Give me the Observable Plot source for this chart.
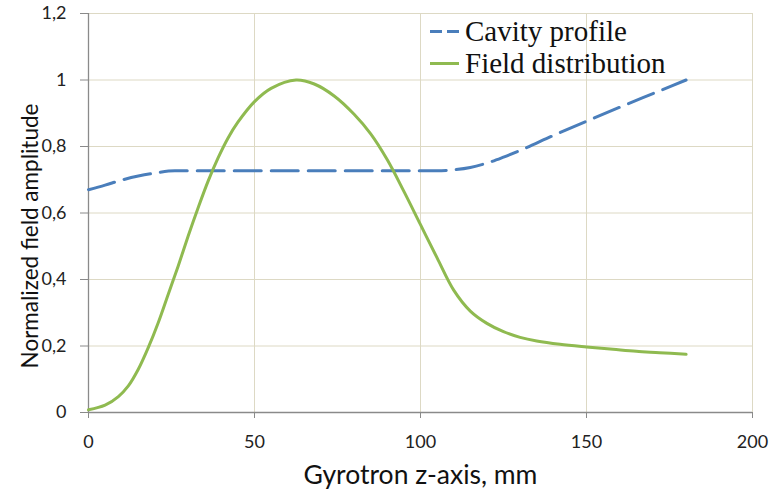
<!DOCTYPE html>
<html>
<head>
<meta charset="utf-8">
<script src="https://cdn.jsdelivr.net/npm/d3@7"></script>
<script src="https://cdn.jsdelivr.net/npm/@observablehq/plot@0.6"></script>
<style>
  html, body { margin: 0; padding: 0; background: #fff; }
  #chart { width: 777px; height: 495px; }
</style>
</head>
<body>
<div id="chart"></div>
<script>
// ---- data ----
const xTicks = [0, 50, 100, 150, 200];
const yTicks = [0, 0.2, 0.4, 0.6, 0.8, 1, 1.2];
const yTickLabels = ["0", "0,2", "0,4", "0,6", "0,8", "1", "1,2"];

const cavityZ = [0, 5, 10, 15, 20, 26, 60, 105, 110, 115, 120, 125, 130, 140, 150, 160, 170, 180];
const cavityV = [0.670, 0.684, 0.699, 0.711, 0.720, 0.727, 0.727, 0.727, 0.730, 0.737, 0.750, 0.768, 0.788, 0.833, 0.876, 0.918, 0.959, 1.0];

const fieldZ = [0, 5, 9, 12, 15, 18, 21, 24, 27, 30, 33, 36, 39, 42, 45, 50, 55, 62.5, 68, 74, 80, 85, 90, 95, 100, 105, 110, 115, 120, 125, 130, 135, 142, 150, 158, 165, 172, 180];
const fieldV = [0.008, 0.022, 0.048, 0.08, 0.13, 0.195, 0.27, 0.355, 0.44, 0.53, 0.615, 0.695, 0.765, 0.825, 0.873, 0.935, 0.975, 1.0, 0.988, 0.952, 0.897, 0.838, 0.76, 0.665, 0.565, 0.465, 0.368, 0.305, 0.268, 0.243, 0.226, 0.215, 0.205, 0.197, 0.19, 0.184, 0.18, 0.175];

const seriesNames = ["Cavity profile", "Field distribution"];
const seriesColors = ["#4a7ebb", "#8fba50"];
const xTitle = "Gyrotron z-axis, mm";
const yTitle = "Normalized field amplitude";

// ---- build tables ----
const cavity = cavityZ.map((z, i) => ({z, v: cavityV[i]}));
const field = fieldZ.map((z, i) => ({z, v: fieldV[i]}));
const yLabelMap = new Map(yTicks.map((t, i) => [t, yTickLabels[i]]));

const gridColor = "#ddd9c4";
const axisColor = "#8a8a8a";

const chart = Plot.plot({
  width: 777,
  height: 495,
  marginLeft: 88,
  marginRight: 25,
  marginTop: 13,
  marginBottom: 83,
  style: {fontFamily: "Lato, 'Open Sans', sans-serif", fontSize: "18px", color: "#222", background: "#fff"},
  x: {domain: [0, 200]},
  y: {domain: [0, 1.2]},
  marks: [
    Plot.gridX(xTicks, {stroke: gridColor, strokeOpacity: 1}),
    Plot.gridY(yTicks, {stroke: gridColor, strokeOpacity: 1}),
    Plot.axisX(xTicks, {tickSize: 6, tickPadding: 17, stroke: axisColor, label: null, fontSize: 18, fill: "#222"}),
    Plot.axisY(yTicks, {tickSize: 8, tickPadding: 14, stroke: axisColor, label: null, fontSize: 18, fill: "#222", tickFormat: d => yLabelMap.get(d)}),
    Plot.ruleY([0], {stroke: axisColor, strokeWidth: 1.3}),
    Plot.ruleX([0], {stroke: axisColor, strokeWidth: 1.3}),
    Plot.line(cavity, {x: "z", y: "v", stroke: seriesColors[0], strokeWidth: 3, strokeDasharray: "27,10", curve: "monotone-x"}),
    Plot.line(field, {x: "z", y: "v", stroke: seriesColors[1], strokeWidth: 3, curve: "catmull-rom"}),
    Plot.text([xTitle], {frameAnchor: "bottom", textAnchor: "middle", lineAnchor: "top", dy: 53, fontSize: 26.5, fill: "#111"}),
    Plot.text([yTitle], {frameAnchor: "left", textAnchor: "middle", rotate: -90, lineAnchor: "middle", dx: -58, dy: 23, fontSize: 22.5, fill: "#111"})
  ]
});

// ---- legend (inside the plot area, top right) ----
const svg = d3.select(chart);
const lg = svg.append("g").attr("class", "legend").attr("text-anchor", "start");
const legendX = 430, legendY0 = 31.5, legendStep = 32;
seriesNames.forEach((name, i) => {
  const y = legendY0 + i * legendStep;
  lg.append("line")
    .attr("x1", legendX).attr("x2", legendX + 29)
    .attr("y1", y).attr("y2", y)
    .attr("stroke", seriesColors[i]).attr("stroke-width", 3)
    .attr("stroke-dasharray", i === 0 ? "12,5" : null);
  lg.append("text")
    .attr("x", legendX + 35).attr("y", y + 9)
    .attr("text-anchor", "start")
    .attr("font-family", "'Liberation Serif', 'DejaVu Serif', serif")
    .attr("font-size", 29)
    .attr("fill", "#111")
    .text(name);
});

document.getElementById("chart").appendChild(chart);
</script>
</body>
</html>
